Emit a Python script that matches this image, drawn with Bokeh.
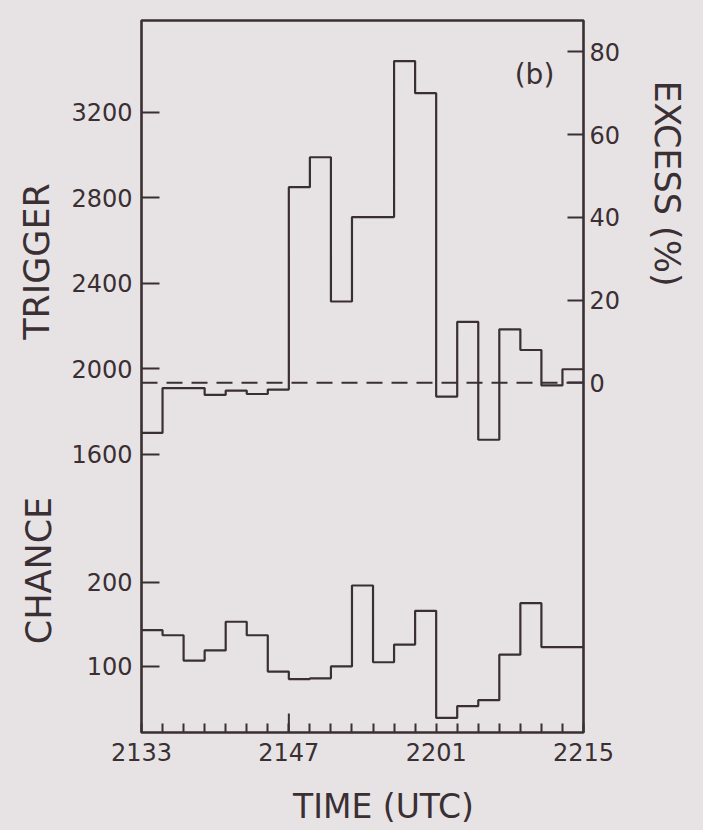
import math

from bokeh.embed import file_html
from bokeh.models import BoxAnnotation, FixedTicker, Label, LinearAxis, Range1d
from bokeh.plotting import figure
from bokeh.resources import INLINE

# Two-minute counting bins, in minutes after 21:33 UTC
bin_edges = [0, 2, 4, 6, 8, 10, 12, 14, 16, 18, 20, 22, 24, 26, 28, 30, 32, 34, 36, 38, 40, 42]

# Trigger counts per bin
trigger_counts = [1700, 1910, 1910, 1878, 1898, 1882, 1903, 2850, 2990, 2315, 2710,
                  2710, 3440, 3290, 1870, 2220, 1668, 2185, 2088, 1922, 1998]

# Chance-coincidence counts per bin
chance_counts = [143, 137, 107, 119, 153, 137, 94, 85, 86, 100, 196,
                 105, 126, 166, 39, 53, 60, 114, 175, 123, 123]

# Mean trigger level (0 % excess)
trigger_mean = 1935

time_ticks = [0, 14, 28, 42]
time_labels = ["2133", "2147", "2201", "2215"]
time_minor = [2, 4, 6, 8, 10, 12, 16, 18, 20, 22, 24, 26, 30, 32, 34, 36, 38, 40]
trigger_ticks = [1600, 2000, 2400, 2800, 3200]
chance_ticks = [100, 200]
excess_ticks = [0, 20, 40, 60, 80]

INK = "#3a2f33"
PAPER = "#e7e3e5"
FONT = "DejaVu Sans"

W, H = 703, 830
# Pixel box of the plotting panel inside the canvas
BOX_L, BOX_R, BOX_T, BOX_B = 141, 583, 20, 732

# Extent of each scale across the panel box
X_LO, X_HI = bin_edges[0], bin_edges[-1]
T_LO, T_HI = 298, 3630
C_LO, C_HI = 21.7, 866

x_per_px = (X_HI - X_LO) / (BOX_R - BOX_L)
t_per_px = (T_HI - T_LO) / (BOX_B - BOX_T)
c_per_px = (C_HI - C_LO) / (BOX_B - BOX_T)

x_range = Range1d(X_LO - BOX_L * x_per_px, X_HI + (W - BOX_R) * x_per_px)
y_range = Range1d(T_LO - (H - BOX_B) * t_per_px, T_HI + BOX_T * t_per_px)
chance_range = Range1d(C_LO - (H - BOX_B) * c_per_px, C_HI + BOX_T * c_per_px)


def excess_of(t):
    return (t - trigger_mean) / trigger_mean * 100


excess_range = Range1d(excess_of(y_range.start), excess_of(y_range.end))


def chance_to_trigger(c):
    return T_LO + (c - C_LO) * (T_HI - T_LO) / (C_HI - C_LO)


p = figure(width=W, height=H, x_range=x_range, y_range=y_range, title=None,
           x_axis_type=None, y_axis_type=None,
           output_backend="svg", toolbar_location=None, min_border=0)
p.extra_y_ranges = {"chance": chance_range, "excess": excess_range}

p.background_fill_color = PAPER
p.border_fill_color = PAPER
p.outline_line_color = None


def style_axis(ax, tick_len, standoff):
    ax.axis_line_color = None
    ax.major_tick_line_color = INK
    ax.major_tick_line_width = 2
    ax.major_tick_in = tick_len
    ax.major_tick_out = 0
    ax.minor_tick_line_color = INK
    ax.minor_tick_line_width = 2
    ax.minor_tick_in = 9
    ax.minor_tick_out = 0
    ax.major_label_text_font = FONT
    ax.major_label_text_font_size = "24px"
    ax.major_label_text_color = INK
    ax.major_label_standoff = standoff


# Left axis: trigger ticks plus chance ticks placed through the chance scale
chance_pos = [chance_to_trigger(c) for c in chance_ticks]
left_labels = {t: str(t) for t in trigger_ticks}
left_labels.update({pos: str(c) for pos, c in zip(chance_pos, chance_ticks)})
left = LinearAxis(ticker=FixedTicker(ticks=trigger_ticks + chance_pos, minor_ticks=[]),
                  major_label_overrides=left_labels,
                  fixed_location=X_LO, bounds=(T_LO, T_HI))
style_axis(left, 18, 9)
p.add_layout(left, "left")

# Right axis: percentage excess over the mean trigger level
right = LinearAxis(y_range_name="excess",
                   ticker=FixedTicker(ticks=excess_ticks, minor_ticks=[]),
                   fixed_location=X_HI, bounds=(excess_of(T_LO), excess_of(T_HI)))
style_axis(right, 16, 6)
p.add_layout(right, "right")

# Bottom axis: time in UTC
bottom = LinearAxis(ticker=FixedTicker(ticks=time_ticks, minor_ticks=time_minor),
                    major_label_overrides=dict(zip(time_ticks, time_labels)),
                    fixed_location=T_LO, bounds=(X_LO, X_HI))
style_axis(bottom, 9, 10)
p.add_layout(bottom, "below")

# Longer tick at the 2147 mark
p.segment(x0=[time_ticks[1]], x1=[time_ticks[1]], y0=[T_LO], y1=[T_LO + 19 * t_per_px],
          line_color=INK, line_width=2)

# Histograms
p.step(bin_edges, trigger_counts + [trigger_counts[-1]], mode="after",
       line_color=INK, line_width=2.2)
p.step(bin_edges, chance_counts + [chance_counts[-1]], mode="after",
       line_color=INK, line_width=2.2, y_range_name="chance")

# Mean trigger level across the time span
p.line([X_LO, X_HI], [trigger_mean, trigger_mean], line_color=INK,
       line_width=2, line_dash="16 9")

# Panel box
p.add_layout(BoxAnnotation(left=X_LO, right=X_HI, bottom=T_LO, top=T_HI,
                           fill_color=None, fill_alpha=0, line_color=INK,
                           line_width=2.6, line_alpha=1.0))


def add_text(sx, sy_top, text, size, angle=0.0):
    # sx from the left edge, sy_top from the top edge of the canvas
    p.add_layout(Label(x=sx, y=H - sy_top, x_units="screen", y_units="screen",
                       text=text, angle=angle, text_align="center",
                       text_baseline="middle", text_font=FONT,
                       text_font_size=size, text_color=INK))


add_text(36, 261, "TRIGGER", "35px", math.pi / 2)
add_text(38, 570, "CHANCE", "35px", math.pi / 2)
add_text(666, 183, "EXCESS (%)", "35px", -math.pi / 2)
add_text(383, 806, "TIME (UTC)", "33px")
add_text(534, 74, "(b)", "28px")

html = file_html(p, INLINE)
html = html.replace("<head>", "<head><style>html,body{margin:0;padding:0;background:"
                    + PAPER + ";}</style>", 1)
open("out.html", "w").write(html)
